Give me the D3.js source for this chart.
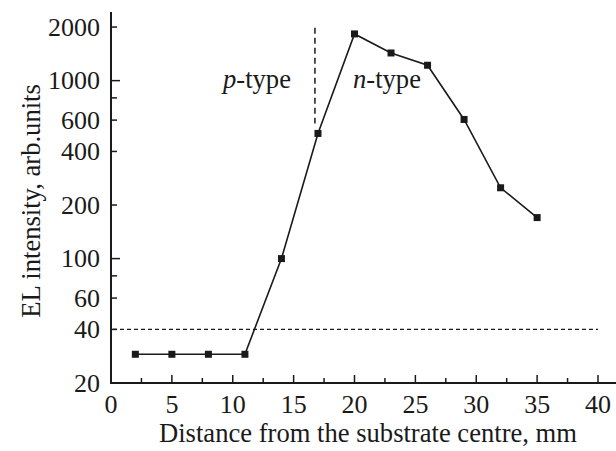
<!DOCTYPE html>
<html><head><meta charset="utf-8">
<script src="https://cdn.jsdelivr.net/npm/d3@7"></script>
<style>body{margin:0;background:#fff}svg{display:block}text{font-family:"Liberation Serif","Times New Roman",serif;fill:#1a1a1a}</style>
</head><body>
<svg id="c" width="616" height="451"></svg>
<script>
const distance = [2, 5, 8, 11, 14, 17, 20, 23, 26, 29, 32, 35];
const intensity = [29, 29, 29, 29, 100, 505, 1830, 1430, 1220, 605, 250, 170];
const xTicks = [0, 5, 10, 15, 20, 25, 30, 35, 40];
const xMinorTicks = [2.5, 7.5, 12.5, 17.5, 22.5, 27.5, 32.5, 37.5];
const yTickLabels = [20, 40, 60, 100, 200, 400, 600, 1000, 2000];
const yMinorTicks = [80, 800];
const thresholdLevel = 40;
const boundaryX = 16.75;
const boundaryRange = [575, 1980];

const FS = 26;
const FT = 26.6;
const svg = d3.select("#c");
const x = d3.scaleLinear().domain([0, 40]).range([111, 598]);
const y = d3.scaleLog().domain([20, 2430]).range([383, 12]);
const ink = "#1a1a1a";

// axes lines
svg.append("line").attr("x1", 111).attr("x2", 111).attr("y1", y(2430)).attr("y2", y(20)+1)
  .attr("stroke", ink).attr("stroke-width", 2);
svg.append("line").attr("x1", 110).attr("x2", 616).attr("y1", y(20)).attr("y2", y(20))
  .attr("stroke", ink).attr("stroke-width", 2);

// x ticks (inward)
const gx = svg.append("g");
xTicks.forEach(v => {
  if (v > 0) gx.append("line").attr("x1", x(v)).attr("x2", x(v)).attr("y1", y(20)).attr("y2", y(20)-8)
    .attr("stroke", ink).attr("stroke-width", 1.5);
  gx.append("text").attr("x", x(v)).attr("y", 413).attr("text-anchor", "middle")
    .attr("font-size", FS).text(v);
});
xMinorTicks.forEach(v => {
  gx.append("line").attr("x1", x(v)).attr("x2", x(v)).attr("y1", y(20)).attr("y2", y(20)-5)
    .attr("stroke", ink).attr("stroke-width", 1.5);
});

// y ticks (inward)
const gy = svg.append("g");
yTickLabels.forEach(v => {
  const len = (v === 100 || v === 1000) ? 9 : 6;
  if (v > 20) gy.append("line").attr("x1", 111).attr("x2", 111+len).attr("y1", y(v)).attr("y2", y(v))
    .attr("stroke", ink).attr("stroke-width", 1.5);
  gy.append("text").attr("x", 100).attr("y", y(v)).attr("dy", "0.34em").attr("text-anchor", "end")
    .attr("font-size", FS).text(v);
});
yMinorTicks.forEach(v => {
  gy.append("line").attr("x1", 111).attr("x2", 117).attr("y1", y(v)).attr("y2", y(v))
    .attr("stroke", ink).attr("stroke-width", 1.5);
});

// threshold dashed line
svg.append("line").attr("x1", 113).attr("x2", x(40)).attr("y1", y(thresholdLevel)).attr("y2", y(thresholdLevel))
  .attr("stroke", ink).attr("stroke-width", 1.2).attr("stroke-dasharray", "4,3");

// boundary dashed line
svg.append("line").attr("x1", x(boundaryX)).attr("x2", x(boundaryX))
  .attr("y1", y(boundaryRange[1])).attr("y2", y(boundaryRange[0]))
  .attr("stroke", ink).attr("stroke-width", 1.5).attr("stroke-dasharray", "6,4");

// data line
const pts = distance.map((d, i) => [d, intensity[i]]);
svg.append("path").attr("d", d3.line().x(d => x(d[0])).y(d => y(d[1]))(pts))
  .attr("fill", "none").attr("stroke", ink).attr("stroke-width", 1.6);
svg.append("g").selectAll("rect").data(pts).join("rect")
  .attr("x", d => x(d[0]) - 3.5).attr("y", d => y(d[1]) - 3.5)
  .attr("width", 7).attr("height", 7).attr("fill", ink);

// labels
const pt = svg.append("text").attr("x", 223).attr("y", 88).attr("font-size", FT);
pt.append("tspan").attr("font-style", "italic").text("p");
pt.append("tspan").text("-type");
const nt = svg.append("text").attr("x", 353).attr("y", 88).attr("font-size", FT);
nt.append("tspan").attr("font-style", "italic").text("n");
nt.append("tspan").text("-type");

// axis titles
svg.append("text").attr("x", 368).attr("y", 442).attr("text-anchor", "middle").attr("font-size", FT)
  .text("Distance from the substrate centre, mm");
svg.append("text").attr("transform", "translate(40,201) rotate(-90)").attr("text-anchor", "middle")
  .attr("font-size", FT).text("EL intensity, arb.units");
</script>
</body></html>
